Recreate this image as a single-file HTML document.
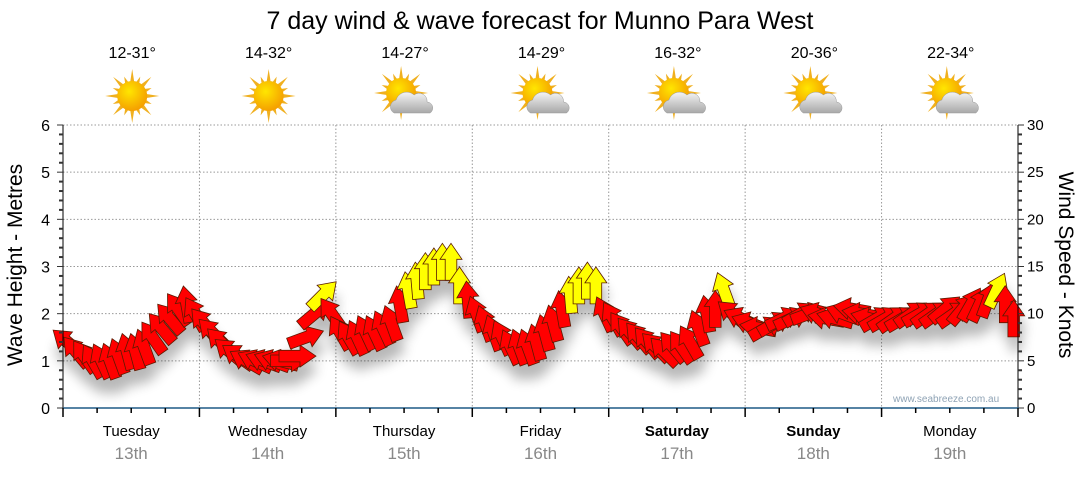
<!DOCTYPE html>
<html><head><meta charset="utf-8"><style>
html,body{margin:0;padding:0;background:#fff;}
svg text{font-family:"Liberation Sans","DejaVu Sans",sans-serif;}
</style></head><body>
<svg id="chart" width="1080" height="475" viewBox="0 0 1080 475" xmlns="http://www.w3.org/2000/svg">
<defs>
<filter id="shadow" x="-20%" y="-50%" width="140%" height="200%">
<feGaussianBlur in="SourceAlpha" stdDeviation="6"/>
<feOffset dx="2" dy="14" result="b"/>
<feComponentTransfer><feFuncA type="linear" slope="0.28"/></feComponentTransfer>
<feMerge><feMergeNode/><feMergeNode in="SourceGraphic"/></feMerge>
</filter>
<radialGradient id="sunG" cx="40%" cy="35%" r="65%"><stop offset="0" stop-color="#ffe600"/><stop offset="1" stop-color="#f5a000"/></radialGradient>
<linearGradient id="cloudG" x1="0" y1="0" x2="0" y2="1"><stop offset="0" stop-color="#f4f4f4"/><stop offset="1" stop-color="#a8a8a8"/></linearGradient>
</defs>
<text x="540" y="29" text-anchor="middle" font-size="25" fill="#000">7 day wind &amp; wave forecast for Munno Para West</text>
<g id="grid"></g>
<g id="icons"></g>
<g id="arrows" filter="url(#shadow)"></g>
<g id="axes"></g>
<text x="893" y="402" font-size="10" fill="#8fa3b5">www.seabreeze.com.au</text>
<text transform="translate(22,265) rotate(-90)" text-anchor="middle" font-size="21" fill="#000">Wave Height - Metres</text>
<text transform="translate(1059,265) rotate(90)" text-anchor="middle" font-size="21" fill="#000">Wind Speed - Knots</text>
</svg>
<script>
const days = ["Tuesday","Wednesday","Thursday","Friday","Saturday","Sunday","Monday"];
const dates = ["13th","14th","15th","16th","17th","18th","19th"];
const boldDays = [false,false,false,false,true,true,false];
const temps = ["12-31°","14-32°","14-27°","14-29°","16-32°","20-36°","22-34°"];
const cloudy = [false,false,true,true,true,true,true];
const waveTicks = [0,1,2,3,4,5,6];
const windTicks = [0,5,10,15,20,25,30];
const windKnots = [
7,6,5.5,5,5,5,5.5,6,6,6.5,7.5,8.5,9.5,10.5,11,10,
9,8,7,6,5.5,5,5,5,5,5,5,5.5,7.5,10,12,10,
8,7.5,7.5,8,8,8.5,9,11,12.5,13.5,14.5,15,15.5,15.5,13,11.5,
10,9,8,7.5,6.5,6.5,6.5,7,8,9,10.5,12,13,13.5,13,10,
9.5,8.5,8,7.5,7,6.5,6,6.5,6.5,7,8.5,10,10.5,12.5,10,9.5,
9,8.5,8.5,9,9.5,9.5,10,10,10,9.5,9.5,10,10.5,10,9.5,9.5,
9.5,9.5,9.5,10,10,10,10,10.5,10,10.5,11,11,11.5,12.5,11,9.5];
const windDir = [
-50,-40,-35,-30,-25,-20,-20,-15,-15,-20,-35,-40,-40,-35,-10,-30,
-40,-45,-45,-50,-55,-60,-65,-70,-70,-75,90,90,70,50,45,-35,
-30,-30,-25,-25,-25,-25,-20,-10,-10,-5,0,0,0,0,0,-5,
-20,-20,-20,-25,-25,-20,-20,-15,-15,-15,-10,-5,0,0,0,-25,
-30,-35,-40,-40,-40,-45,-45,-40,-35,-30,-20,-10,0,-20,-50,-65,
-70,-80,60,60,65,65,60,70,-70,-80,-75,-70,-80,-80,-75,60,
60,55,60,55,60,55,55,50,55,40,30,25,20,25,0,0];
const PER_DAY = 16;
const NS="http://www.w3.org/2000/svg";
const X0=63, X1=1018, Y0=408, Y1=125;
const dayW=(X1-X0)/7;
function xTime(t){return X0+t*dayW;}
function yWave(m){return Y0-(m/6)*(Y0-Y1);}
function yWind(k){return Y0-(k/30)*(Y0-Y1);}
function el(tag,attrs,parent){const e=document.createElementNS(NS,tag);for(const k in attrs)e.setAttribute(k,attrs[k]);parent.appendChild(e);return e;}
const grid=document.getElementById('grid'), axes=document.getElementById('axes'), icons=document.getElementById('icons'), arrows=document.getElementById('arrows');
for(const m of waveTicks){ if(m===0) continue;
  const l=el('line',{x1:X0,x2:X1,y1:yWave(m),y2:yWave(m),stroke:'#999','stroke-dasharray':'1.5,2','stroke-width':1},grid);
  
  
}
for(let d=1;d<7;d++){
  const l=el('line',{x1:xTime(d),x2:xTime(d),y1:Y1,y2:Y0,stroke:'#999','stroke-dasharray':'1.5,2','stroke-width':1},grid);
  
  
}
el('line',{x1:X0,x2:X0,y1:Y1,y2:Y0,stroke:'#000','stroke-width':1},axes);
for(let i=0;i<=30;i++){const y=Y0-i*(Y0-Y1)/30;const major=i%5===0;
  el('line',{x1:X0-(major?6:4),x2:X0,y1:y,y2:y,stroke:'#333','stroke-width':major?1:2},axes);}
for(const m of waveTicks){const t=el('text',{x:50,y:yWave(m)+6,'text-anchor':'end','font-size':16,fill:'#000'},axes);t.textContent=m;
  
  }
el('line',{x1:X1,x2:X1,y1:Y1,y2:Y0,stroke:'#000','stroke-width':1},axes);
for(let k=0;k<=30;k++){const y=yWind(k);const major=k%5===0;
  el('line',{x1:X1,x2:X1+(major?6:4),y1:y,y2:y,stroke:'#333','stroke-width':major?1:2},axes);}
for(const k of windTicks){const t=el('text',{x:1027,y:yWind(k)+5,'font-size':15,fill:'#000'},axes);t.textContent=k;
  
  }
el('line',{x1:X0,x2:X1+1,y1:Y0,y2:Y0,stroke:'#1f5a85','stroke-width':1.5},axes);
for(let q=0;q<=28;q++){const x=xTime(q/4);const major=q%4===0;
  el('line',{x1:x,x2:x,y1:Y0,y2:Y0+(major?9:5),stroke:'#000','stroke-width':1.5},axes);}
days.forEach((d,i)=>{const cx=xTime(i+0.5);
  const t=el('text',{x:cx,y:436,'text-anchor':'middle','font-size':15,fill:'#000','font-weight':boldDays[i]?'bold':'normal'},axes);t.textContent=d;
  
  
  const t2=el('text',{x:cx,y:459,'text-anchor':'middle','font-size':17,fill:'#888'},axes);t2.textContent=dates[i];
  
  
  const t3=el('text',{x:cx+1,y:58,'text-anchor':'middle','font-size':16,fill:'#000'},icons);t3.textContent=temps[i];
  
  
  const g=el('g',{},icons);
  
  
  const sx=cloudy[i]?cx-3:cx+1, sy=cloudy[i]?93:96;
  for(let r=0;r<16;r++){const a=r*Math.PI/8;const L=(r%2===0)?27:21;
    const p1=[sx+Math.cos(a)*L,sy+Math.sin(a)*L],p2=[sx+Math.cos(a+0.2)*12,sy+Math.sin(a+0.2)*12],p3=[sx+Math.cos(a-0.2)*12,sy+Math.sin(a-0.2)*12];
    el('polygon',{points:[p1,p2,p3].map(p=>p.join(',')).join(' '),fill:'#f0b020'},g);}
  el('circle',{cx:sx,cy:sy,r:15,fill:'url(#sunG)'},g);
  if(cloudy[i]){const c=cx+9,cy=104;
    el('path',{d:`M${c-19},${cy+9} a7,7 0 0 1 2,-13 a11,11 0 0 1 18,-5 a8,8 0 0 1 13,7 a6,6 0 0 1 3,11 z`,fill:'url(#cloudG)',stroke:'#999','stroke-width':0.5},g);}
});
const L=37, HL=16, HW=11, SW=5.8;
windKnots.forEach((k,i)=>{
  const x=xTime((i+0.5)/PER_DAY), y=yWind(k);
  const pts=[[0,-L/2],[HW,-L/2+HL],[SW,-L/2+HL],[SW,L/2],[-SW,L/2],[-SW,-L/2+HL],[-HW,-L/2+HL]];
  const p=el('polygon',{points:pts.map(q=>q.join(',')).join(' '),transform:`translate(${x.toFixed(1)},${y.toFixed(1)}) rotate(${windDir[i]})`,fill:k>=12?'#ffff00':'#ff0000',stroke:'#5a1a00','stroke-width':0.8,'stroke-linejoin':'miter'},arrows);
  
  
});
</script>
</body></html>
